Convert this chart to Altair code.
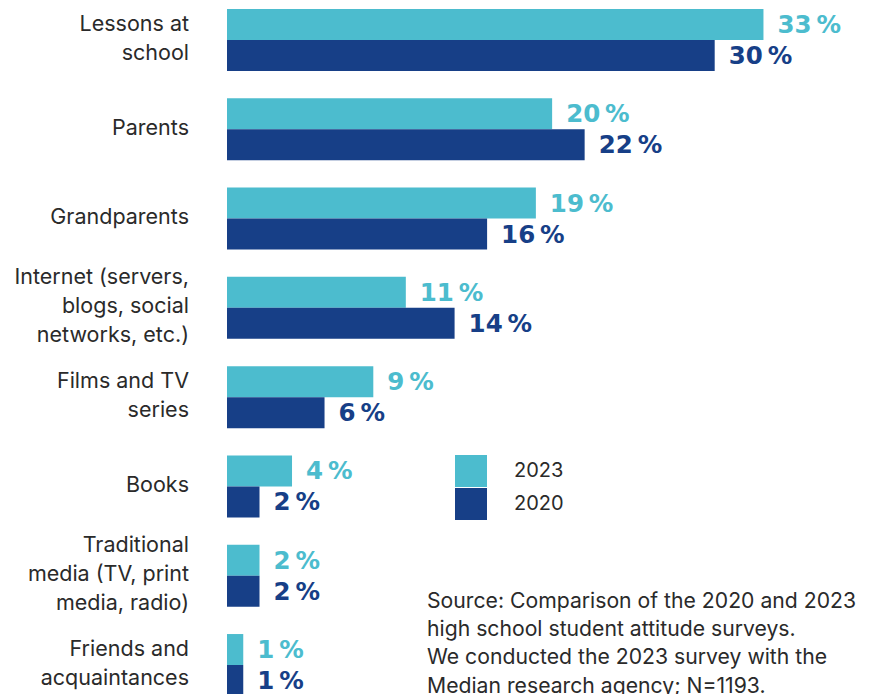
import altair as alt
import pandas as pd

categories = ["Lessons at|school", "Parents", "Grandparents",
              "Internet (servers,|blogs, social|networks, etc.)",
              "Films and TV|series", "Books",
              "Traditional|media (TV, print|media, radio)",
              "Friends and|acquaintances"]
v2023 = [33, 20, 19, 11, 9, 4, 2, 1]
v2020 = [30, 22, 16, 14, 6, 2, 2, 1]
years = ["2023", "2020"]
colors = ["#4CBCCE", "#173F87"]
source_lines = ["Source: Comparison of the 2020 and 2023",
                "high school student attitude surveys.",
                "We conducted the 2023 survey with the",
                "Median research agency; N=1193."]

rows = []
for c, a, b in zip(categories, v2023, v2020):
    rows.append({"cat": c, "year": "2023", "value": a, "label": f"{a}\u2009%"})
    rows.append({"cat": c, "year": "2020", "value": b, "label": f"{b}\u2009%"})
df = pd.DataFrame(rows)

cat_df = pd.DataFrame({"cat": categories,
                       "lines": [c.split("|") for c in categories],
                       "n": [len(c.split("|")) for c in categories]})

y = alt.Y("cat:N", sort=categories, title=None,
          scale=alt.Scale(paddingInner=0.306, paddingOuter=0), axis=None)
x = alt.X("value:Q", title=None, scale=alt.Scale(domain=[0, 39]), axis=None)
yoff = alt.YOffset("year:N", sort=years)
color = alt.Color("year:N", sort=years, title=None,
                  scale=alt.Scale(domain=years, range=colors),
                  legend=alt.Legend(orient="none", legendX=228, legendY=446,
                                    symbolType="square", symbolSize=1024,
                                    symbolStrokeWidth=0, labelFont="Inter",
                                    labelFontSize=20, labelColor="#2a2a2a",
                                    labelOffset=27, rowPadding=1))

base = alt.Chart(df)
bars = base.mark_bar().encode(y=y, x=x, yOffset=yoff, color=color)
labels = base.mark_text(align="left", baseline="middle", dx=14, dy=1.5,
                        font="DejaVu Sans", fontWeight="bold", fontSize=24.5).encode(
    y=y, x=x, yOffset=yoff, text="label:N",
    color=alt.Color("year:N", sort=years, scale=alt.Scale(domain=years, range=colors), legend=None))

cat_layers = []
for n in (1, 2, 3):
    cat_layers.append(
        alt.Chart(cat_df).transform_filter(alt.datum.n == n).mark_text(
            align="right", baseline="top", font="Inter", fontSize=21.5,
            lineHeight=29, color="#2a2a2a", dy=-11.6 - (n - 1) * 14.5).encode(
            y=y, x=alt.value(-38), text="lines"))

note = alt.Chart(pd.DataFrame({"k": [0]})).mark_text(
    text=source_lines, align="left", baseline="top", font="Inter",
    fontSize=21.2, lineHeight=28.2, color="#2a2a2a").encode(
    x=alt.value(200), y=alt.value(582))

chart = alt.layer(bars, labels, *cat_layers, note).properties(
    width=634, height=687,
    padding={"left": 219, "top": 1, "right": 0, "bottom": 0},
    autosize=alt.AutoSizeParams(type="none"),
).configure_view(stroke=None)

chart.save("out.html", embed_options={"renderer": "svg", "actions": False})
